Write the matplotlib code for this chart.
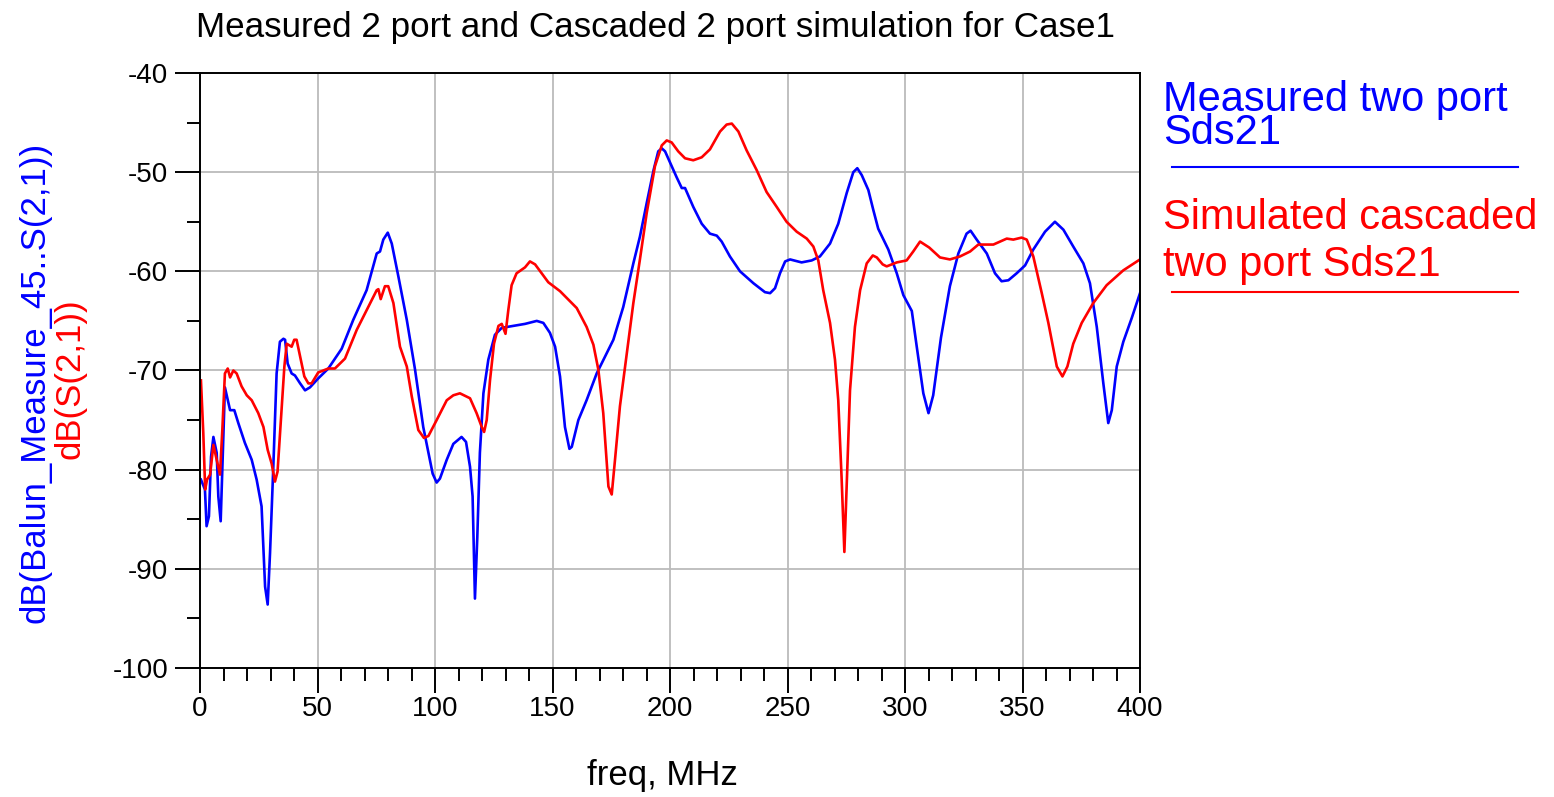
import numpy as np
import matplotlib
matplotlib.use("Agg")
import matplotlib.pyplot as plt
from matplotlib.ticker import MultipleLocator

plt.rcParams['font.family'] = ['Liberation Sans', 'DejaVu Sans']
plt.rcParams['axes.unicode_minus'] = False

# Measured two port Sds21 (blue), freq in MHz, dB
freq_meas = [0.4, 2.1, 2.8, 3.8, 4.7, 5.7, 7.1, 7.8, 8.8, 10.6, 12.8, 14.6, 16.3, 19.1, 22.0,
             24.1, 26.2, 27.7, 28.8, 29.8, 31.2, 32.6, 34.0, 35.5, 36.2, 37.3, 39.0, 40.4, 42.6,
             44.7, 46.8, 50.3, 54.6, 60.3, 65.2, 70.9, 75.2, 76.6, 78.0, 79.9, 81.6, 84.4, 88.0,
             91.5, 95.0, 97.2, 99.0, 100.7, 102.1, 105.0, 107.8, 111.3, 113.2, 114.9, 116.0, 117.0,
             118.0, 119.1, 120.6, 122.7, 125.5, 128.4, 133.3, 138.3, 143.3, 146.1, 148.9, 151.1,
             153.2, 155.3, 157.2, 158.2, 161.0, 164.5, 168.8, 173.0, 175.9, 180.1, 184.4, 187.2,
             190.1, 193.0, 195.0, 196.5, 197.9, 200.7, 202.8, 205.0, 206.4, 209.9, 213.5, 217.0,
             219.9, 222.0, 225.5, 229.8, 235.5, 240.4, 242.6, 244.7, 246.8, 249.0, 251.1, 256.0,
             260.3, 263.8, 268.1, 271.6, 275.2, 278.0, 279.7, 281.6, 284.4, 286.5, 288.6, 292.9,
             296.5, 299.3, 302.9, 305.0, 307.8, 310.0, 312.0, 315.3, 319.1, 322.7, 326.2, 327.9,
             330.5, 334.8, 338.3, 341.1, 344.0, 347.5, 351.1, 354.6, 359.6, 363.8, 367.4, 371.6,
             375.9, 378.7, 381.6, 384.4, 386.5, 388.0, 390.1, 392.9, 396.5, 400.0]
db_meas = [-81.0, -82.0, -85.7, -84.7, -78.7, -76.7, -78.3, -82.7, -85.2, -71.7, -74.0, -74.0, -75.3,
           -77.3, -79.0, -81.0, -83.7, -91.8, -93.6, -88.4, -79.7, -70.3, -67.1, -66.8, -66.9, -69.3,
           -70.3, -70.5, -71.3, -72.0, -71.7, -70.8, -69.8, -67.8, -64.9, -61.9, -58.2, -58.0, -56.8,
           -56.1, -57.2, -60.5, -64.9, -69.9, -75.7, -78.3, -80.4, -81.3, -80.9, -79.0, -77.4, -76.7,
           -77.2, -79.7, -82.7, -93.0, -86.8, -78.3, -72.3, -68.9, -66.4, -65.7, -65.5, -65.3, -65.0,
           -65.2, -66.2, -67.6, -70.6, -75.7, -77.9, -77.7, -75.0, -73.0, -70.3, -68.3, -66.9, -63.6,
           -59.2, -56.5, -53.1, -49.8, -47.9, -47.6, -47.9, -49.4, -50.5, -51.6, -51.6, -53.5, -55.2,
           -56.2, -56.4, -57.0, -58.5, -60.0, -61.2, -62.1, -62.2, -61.7, -60.2, -59.0, -58.8, -59.1,
           -58.9, -58.5, -57.2, -55.2, -52.1, -50.0, -49.6, -50.3, -51.8, -53.8, -55.7, -57.8, -60.2,
           -62.4, -64.0, -67.6, -72.3, -74.3, -72.5, -66.7, -61.5, -58.2, -56.2, -55.9, -56.8, -58.2,
           -60.2, -61.0, -60.9, -60.2, -59.4, -57.8, -56.0, -55.0, -55.8, -57.5, -59.2, -61.2, -65.6,
           -71.3, -75.3, -74.0, -69.6, -67.1, -64.7, -62.2]

# Simulated cascaded two port Sds21 (red)
freq_sim = [0.4, 1.4, 2.2, 3.0, 4.3, 5.7, 7.1, 8.5, 9.5, 10.6, 11.8, 12.8, 14.2, 15.6, 17.7, 19.9,
            22.0, 24.8, 27.0, 28.8, 30.5, 31.9, 33.0, 34.5, 35.9, 36.9, 39.0, 40.1, 41.1, 42.6, 44.4,
            46.1, 47.5, 50.3, 54.6, 57.4, 61.7, 66.7, 71.6, 75.2, 75.9, 76.9, 78.7, 80.1, 82.3, 85.1,
            88.0, 90.1, 92.9, 95.3, 97.2, 100.7, 105.0, 107.8, 110.6, 114.9, 117.7, 119.9, 120.9,
            122.0, 123.4, 125.1, 127.0, 128.4, 130.0, 131.2, 132.6, 134.7, 138.3, 140.4, 142.6,
            145.4, 148.2, 153.2, 160.3, 164.5, 167.4, 169.5, 171.6, 173.8, 175.2, 176.6, 178.7,
            181.6, 184.4, 187.2, 190.1, 193.6, 196.5, 198.6, 200.7, 203.5, 206.4, 209.9, 213.5,
            217.0, 221.3, 224.1, 226.3, 229.1, 232.6, 236.9, 241.1, 245.4, 249.6, 253.9, 258.2,
            261.0, 263.1, 265.2, 268.1, 270.2, 271.6, 273.0, 274.2, 275.2, 276.6, 278.7, 280.9,
            283.7, 286.3, 288.0, 290.5, 292.2, 296.5, 300.7, 303.5, 306.4, 310.3, 314.9, 319.1,
            323.4, 327.7, 331.2, 334.0, 337.6, 340.4, 343.3, 346.1, 349.6, 351.8, 354.6, 358.2,
            361.0, 364.6, 367.0, 369.1, 371.6, 375.2, 380.1, 385.8, 392.9, 400.0]
db_sim = [-71.0, -76.3, -82.0, -81.0, -80.5, -77.5, -79.0, -80.5, -76.0, -70.3, -69.8, -70.7, -70.0,
          -70.3, -71.6, -72.5, -73.0, -74.3, -75.7, -78.0, -79.4, -81.2, -80.2, -74.7, -69.6, -67.3,
          -67.6, -66.9, -66.9, -68.6, -70.6, -71.3, -71.3, -70.2, -69.8, -69.8, -68.8, -65.9, -63.6,
          -61.9, -61.8, -62.8, -61.5, -61.5, -63.2, -67.6, -69.6, -72.6, -76.0, -76.8, -76.6, -75.0,
          -73.0, -72.5, -72.3, -72.8, -74.3, -75.7, -76.2, -75.0, -71.0, -67.3, -65.5, -65.3, -66.3,
          -63.9, -61.4, -60.2, -59.6, -59.0, -59.3, -60.2, -61.1, -62.0, -63.7, -65.6, -67.4, -69.9,
          -74.3, -81.7, -82.5, -79.0, -73.6, -68.3, -63.2, -58.8, -54.1, -49.4, -47.3, -46.8, -47.0,
          -47.9, -48.6, -48.8, -48.5, -47.7, -45.9, -45.2, -45.1, -45.9, -47.8, -49.8, -52.0, -53.5,
          -55.0, -56.0, -56.7, -57.5, -58.9, -61.9, -65.2, -68.9, -73.0, -80.7, -88.3, -81.4, -72.0,
          -65.6, -61.9, -59.2, -58.4, -58.6, -59.3, -59.5, -59.1, -58.9, -58.0, -57.0, -57.6, -58.6,
          -58.8, -58.5, -58.0, -57.3, -57.3, -57.3, -57.0, -56.7, -56.8, -56.6, -56.8, -58.5, -62.2,
          -65.2, -69.6, -70.6, -69.6, -67.3, -65.2, -63.2, -61.4, -59.9, -58.8]

fig = plt.figure(figsize=(15.54, 7.97), dpi=100)
ax = fig.add_axes([200 / 1554, 1 - 668 / 797, 940 / 1554, 595 / 797])

ax.plot(freq_meas, db_meas, color='#0000ff', lw=1.9)
ax.plot(freq_sim, db_sim, color='#ff0000', lw=1.9)

ax.set_xlim(0, 400)
ax.set_ylim(-100, -40)
ax.xaxis.set_major_locator(MultipleLocator(50))
ax.xaxis.set_minor_locator(MultipleLocator(10))
ax.yaxis.set_major_locator(MultipleLocator(10))
ax.yaxis.set_minor_locator(MultipleLocator(5))
ax.grid(True, which='major', color='#bbbbbb', lw=1.3)
ax.set_axisbelow(True)
ax.tick_params(which='major', direction='out', length=18, width=1.4, labelsize=20)
ax.tick_params(axis='x', which='major', pad=2)
ax.tick_params(axis='y', which='major', pad=5)
ax.tick_params(which='minor', direction='out', length=9.5, width=1.4)
for s in ax.spines.values():
    s.set_linewidth(1.4)

# title, axis labels
fig.text(656 / 1554, 1 - 27 / 797, "Measured 2 port and Cascaded 2 port simulation for Case1",
         fontsize=25.2, ha='center', va='center')
fig.text(662 / 1554, 1 - 775 / 797, "freq, MHz", fontsize=25, ha='center', va='center')
fig.text(35 / 1554, 1 - 382 / 797, "dB(Balun_Measure_45..S(2,1))", fontsize=25, color='#0000ff',
         rotation=90, ha='center', va='center')
fig.text(70 / 1554, 1 - 379 / 797, "dB(S(2,1))", fontsize=25, color='#ff0000',
         rotation=90, ha='center', va='center')

# legend drawn as text and lines to the right of the plot
fig.text(1163 / 1554, 1 - 80 / 797, "Measured two port\nSds21", fontsize=30, color='#0000ff',
         va='top', linespacing=0.76)
fig.add_artist(plt.Line2D([1172 / 1554, 1518 / 1554], [1 - 167 / 797] * 2, color='#0000ff', lw=1.5))
fig.text(1163 / 1554, 1 - 198 / 797, "Simulated cascaded\ntwo port Sds21", fontsize=30,
         color='#ff0000', va='top', linespacing=1.22)
fig.add_artist(plt.Line2D([1172 / 1554, 1518 / 1554], [1 - 292 / 797] * 2, color='#ff0000', lw=1.5))

fig.savefig("out.png", dpi=100)
